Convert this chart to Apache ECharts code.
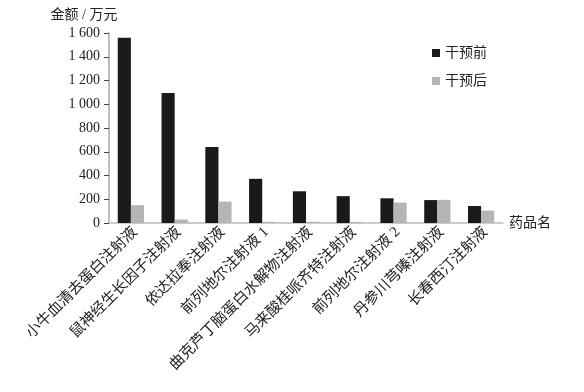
<!DOCTYPE html>
<html>
<head>
<meta charset="utf-8">
<script src="https://cdn.jsdelivr.net/npm/echarts@6/dist/echarts.min.js"></script>
<style>html,body{margin:0;padding:0;background:#fff}#c{width:584px;height:392px}</style>
</head>
<body>
<div id="c"></div>
<script>
const categories = ['小牛血清去蛋白注射液','鼠神经生长因子注射液','依达拉奉注射液','前列地尔注射液 1','曲克芦丁脑蛋白水解物注射液','马来酸桂哌齐特注射液','前列地尔注射液 2','丹参川芎嗪注射液','长春西汀注射液'];
const before = [1560, 1095, 640, 372, 267, 226, 208, 193, 143];
const after = [150, 29, 180, 10, 10, 8, 172, 195, 105];
const seriesNames = ['干预前','干预后'];
const yTicks = [0, 200, 400, 600, 800, 1000, 1200, 1400, 1600];

const cjk = '"Liberation Serif", "Noto Sans CJK SC", serif';
const chart = echarts.init(document.getElementById('c'));
chart.setOption({
  animation: false,
  textStyle: {fontFamily: cjk},
  grid: {left: 109, right: 81, top: 33, bottom: 169},
  legend: {
    orient: 'vertical', left: 427, top: 41, itemWidth: 8, itemHeight: 8, itemGap: 14,
    icon: 'rect',
    textStyle: {fontSize: 14, color: '#222', fontFamily: cjk},
    data: seriesNames
  },
  xAxis: {
    type: 'category', data: categories,
    name: '药品名', nameLocation: 'end', nameGap: 6,
    nameTextStyle: {fontSize: 14, color: '#222', fontFamily: cjk, verticalAlign: 'middle'},
    axisLine: {lineStyle: {color: '#bbb', width: 1.5}},
    axisTick: {show: false},
    axisLabel: {rotate: 45, fontSize: 15, color: '#222', margin: 11, padding: [0, -6, 0, 0], interval: 0, fontFamily: cjk}
  },
  yAxis: {
    type: 'value', min: yTicks[0], max: yTicks[yTicks.length-1], interval: 200,
    name: '金额 / 万元', nameLocation: 'end', nameGap: 11,
    nameTextStyle: {fontSize: 14, color: '#222', fontFamily: cjk, align: 'center', padding: [0, 0, 0, -50]},
    axisLine: {show: true, lineStyle: {color: '#aaa', width: 1.5}},
    axisTick: {show: true, length: 5, lineStyle: {color: '#444'}},
    splitLine: {show: false},
    axisLabel: {fontSize: 14, color: '#222', margin: 9, fontFamily: cjk,
      formatter: v => String(v).replace(/\B(?=(\d{3})+(?!\d))/g, ' ')}
  },
  series: [
    {name: seriesNames[0], type: 'bar', data: before, barGap: '0%', barCategoryGap: '40%', itemStyle: {color: '#1a1a1a'}},
    {name: seriesNames[1], type: 'bar', data: after, itemStyle: {color: '#b5b5b5'}}
  ]
});
</script>
</body>
</html>
